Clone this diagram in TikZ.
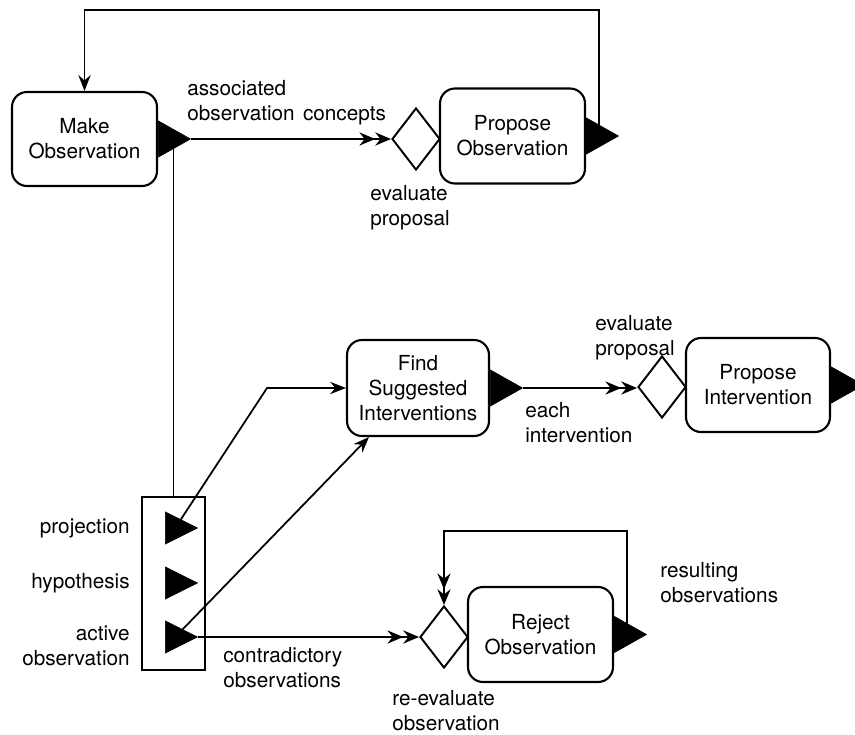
\documentclass[tikz,border=0pt]{standalone}
\usepackage{fontspec}
\setmainfont{TeX Gyre Heros}
\usetikzlibrary{shapes.geometric,arrows.meta,calc}
\begin{document}
\begin{tikzpicture}[x=0.02cm,y=-0.02cm,
 font=\fontsize{11.8}{14.2}\selectfont,
 proc/.style={draw,line width=1.2pt,rounded corners=8.5pt,align=center,inner sep=0pt},
 dec/.style={draw,diamond,line width=1.1pt,inner sep=0pt,minimum width=0.96cm,minimum height=1.24cm},
 tri/.style={isosceles triangle,isosceles triangle stretches,fill=black,draw=black,inner sep=0pt,anchor=lower side,minimum width=0.72cm,minimum height=0.64cm},
 ptri/.style={tri,minimum width=0.64cm,minimum height=0.64cm},
 lbl/.style={align=left,inner sep=0pt,anchor=north west},
 rlbl/.style={align=right,inner sep=0pt,anchor=east},
 conn/.style={line width=1pt},
 arr/.style={conn,-{Stealth[length=9pt,width=7pt,inset=3pt]}},
 darr/.style={conn,-{Stealth[length=9pt,width=7.5pt,inset=3pt]Stealth[length=9pt,width=7.5pt,inset=3pt]}},
]
\useasboundingbox (0,0) rectangle (855,734);
\clip (0,0) rectangle (855,734);

% process boxes and decisions
\node[proc,minimum width=2.9cm,minimum height=1.88cm] (mo) at (84.5,139) {Make\\Observation};
\node[dec] (d1) at (416,139) {};
\node[proc,minimum width=2.9cm,minimum height=1.9cm] (po) at (512.5,136) {Propose\\Observation};
\node[proc,minimum width=2.84cm,minimum height=1.92cm] (fsi) at (418,388) {Find\\Suggested\\Interventions};
\node[dec] (d2) at (662,387) {};
\node[proc,minimum width=2.88cm,minimum height=1.88cm] (pi) at (758,385) {Propose\\Intervention};
\node[draw,line width=1.2pt,minimum width=1.26cm,minimum height=3.46cm,inner sep=0pt] (pb) at (173.5,583.5) {};
\node[dec] (d3) at (444,637) {};
\node[proc,minimum width=2.9cm,minimum height=1.9cm] (ro) at (540.5,634.5) {Reject\\Observation};

% connectors under the triangles
\draw[conn] (pb.north) -- (pb.north |- mo.east);
\coordinate (l1) at (599,10);
\draw[arr] (l1 |- po.east) -- (l1) -| (mo.north);
\coordinate (l2) at (627,531);
\draw[darr] (l2 |- ro.east) -- (l2) -| (d3.north);

% output triangles
\node[tri] (mot) at (mo.east) {};
\node[tri] (pot) at (po.east) {};
\node[tri] (fst) at (fsi.east) {};
\node[tri] (pit) at (pi.east) {};
\node[tri] (rot) at (ro.east) {};
\node[ptri] (p1) at (165,528) {};
\node[ptri] (p2) at (165,583) {};
\node[ptri] (p3) at (165,637) {};

% connectors
\draw[darr] (mot.apex) -- (mot.apex -| d1.west);
\draw[darr] (fst.apex) -- (fst.apex -| d2.west);
\coordinate (b1) at (267,388);
\draw[arr] (p1.center) -- (b1) -- (b1 -| fsi.west);
\draw[arr] (p3.center) -- ($(fsi.south west)+(23,0)$);
\draw[darr] (p3.apex) -- (d3.west);

% labels
\node[lbl] (t1) at (187,80) {associated\\observation\hspace{0.4em}concepts};
\node[lbl] (t2) at (370,185) {evaluate\\proposal};
\node[lbl] (t3) at (595,315) {evaluate\\proposal};
\node[lbl] (t4) at (525,402) {each\\intervention};
\node[lbl] (t5) at (223,647) {contradictory\\observations};
\node[lbl] (t6) at (660,562) {resulting\\observations};
\node[lbl] (t7) at (392,690) {re-evaluate\\observation};
\node[rlbl] (t8) at (130,528) {projection};
\node[rlbl] (t9) at (130,583) {hypothesis};
\node[rlbl] (t10) at (130,646) {active\\observation};
\end{tikzpicture}
\end{document}
